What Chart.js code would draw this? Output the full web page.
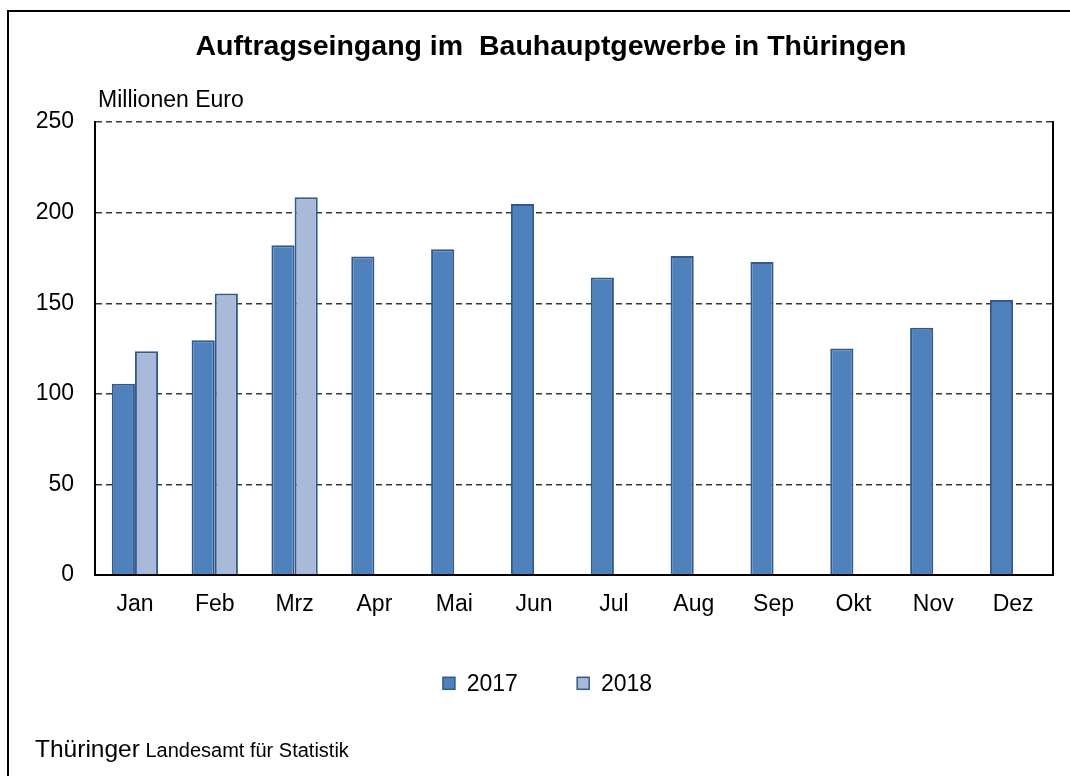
<!DOCTYPE html>
<html>
<head>
<meta charset="utf-8">
<title>Auftragseingang im Bauhauptgewerbe</title>
<script src="https://cdn.jsdelivr.net/npm/chart.js@4/dist/chart.umd.min.js"></script>
<style>
    html, body { margin: 0; padding: 0; background: #fff; }
    #wrap { position: relative; width: 1070px; height: 776px; overflow: hidden; }
    #frame { position: absolute; left: 7px; top: 10px; width: 1100px; height: 820px; border: 2px solid #000; box-sizing: border-box; }
    #orderChart { position: absolute; left: 0; top: 0; }
</style>
</head>
<body>
<div id="wrap">
    <div id="frame"></div>
    <canvas id="orderChart" width="1070" height="776"></canvas>
</div>
<script>
// Monthly values, Millionen Euro
const months = ['Jan', 'Feb', 'Mrz', 'Apr', 'Mai', 'Jun', 'Jul', 'Aug', 'Sep', 'Okt', 'Nov', 'Dez'];
const orders2017 = [105.5, 129.6, 182.0, 175.8, 179.8, 204.8, 164.2, 176.0, 172.8, 125.0, 136.4, 151.8];
const orders2018 = [123.5, 155.4, 208.5, null, null, null, null, null, null, null, null, null];
const yMin = 0;
const yMax = 250;
const yStep = 50;

const FONT = '"Liberation Sans", Arial, sans-serif';

// Unit label, legend row and source line
const extraText = {
    id: 'extraText',
    afterDraw(chart) {
        const ctx = chart.ctx;
        ctx.save();
        ctx.fillStyle = '#000';
        ctx.textAlign = 'left';
        ctx.textBaseline = 'alphabetic';
        ctx.font = '23px ' + FONT;
        ctx.fillText('Millionen Euro', 98, 107);

        // legend, built from the datasets
        const sets = chart.data.datasets;
        const box = 12, gapText = 11.7, gapItem = 59.4, legendY = 683.3;
        ctx.font = '23px ' + FONT;
        let total = 0;
        sets.forEach((ds, i) => {
            total += box + gapText + ctx.measureText(ds.label).width + (i < sets.length - 1 ? gapItem : 0);
        });
        let x = 547.5 - total / 2;
        sets.forEach(ds => {
            ctx.fillStyle = ds.backgroundColor;
            ctx.fillRect(x, legendY - box / 2, box, box);
            ctx.strokeStyle = ds.borderColor;
            ctx.lineWidth = 1.5;
            ctx.strokeRect(x, legendY - box / 2, box, box);
            ctx.fillStyle = '#000';
            ctx.textBaseline = 'middle';
            ctx.fillText(ds.label, x + box + gapText, legendY + 1);
            x += box + gapText + ctx.measureText(ds.label).width + gapItem;
        });

        ctx.textBaseline = 'alphabetic';
        ctx.fillStyle = '#000';
        ctx.font = '24.5px ' + FONT;
        ctx.fillText('Thüringer', 35, 757);
        const w = ctx.measureText('Thüringer').width;
        ctx.font = '20px ' + FONT;
        ctx.fillText(' Landesamt für Statistik', 35 + w, 757);
        ctx.restore();
    }
};

const ctx = document.getElementById('orderChart').getContext('2d');
const orderChart = new Chart(ctx, {
    type: 'bar',
    data: {
        labels: months,
        datasets: [
            {
                label: '2017',
                data: orders2017,
                backgroundColor: '#4F81BD',
                borderColor: '#33598A',
                borderWidth: 2
            },
            {
                label: '2018',
                data: orders2018,
                backgroundColor: '#A9B9D9',
                borderColor: '#33598A',
                borderWidth: 2
            }
        ]
    },
    options: {
        responsive: false,
        animation: false,
        devicePixelRatio: 1,
        categoryPercentage: 0.58,
        barPercentage: 1.0,
        layout: { padding: { left: 32, right: 0, top: 0, bottom: 141 } },
        plugins: {
            title: {
                display: true,
                text: 'Auftragseingang im  Bauhauptgewerbe in Thüringen',
                color: '#000',
                font: { family: FONT, size: 28.5, weight: 'bold' },
                padding: { top: 30, bottom: 57.8 }
            },
            legend: { display: false },
            tooltip: { enabled: false }
        },
        scales: {
            x: {
                grid: { display: false, drawTicks: false },
                border: { display: true, color: '#000', width: 2 },
                ticks: { color: '#000', font: { family: FONT, size: 23 }, padding: 16 },
                afterFit(scale) { scale.height = 60; }
            },
            y: {
                min: yMin,
                max: yMax,
                grid: {
                    drawTicks: false,
                    color: c => (c.tick && c.tick.value === 0) ? 'rgba(0,0,0,0)' : '#383838',
                    lineWidth: 1.4
                },
                border: { display: true, color: '#000', width: 2, dash: [6, 4] },
                ticks: { stepSize: yStep, color: '#000', font: { family: FONT, size: 23 }, padding: 21 },
                afterFit(scale) { scale.width = 63; }
            },
            yRight: {
                position: 'right',
                min: yMin,
                max: yMax,
                grid: { display: false, drawTicks: false },
                border: { display: true, color: '#000', width: 2 },
                ticks: { display: false },
                afterFit(scale) { scale.width = 17; }
            }
        }
    },
    plugins: [extraText]
});
</script>
</body>
</html>
